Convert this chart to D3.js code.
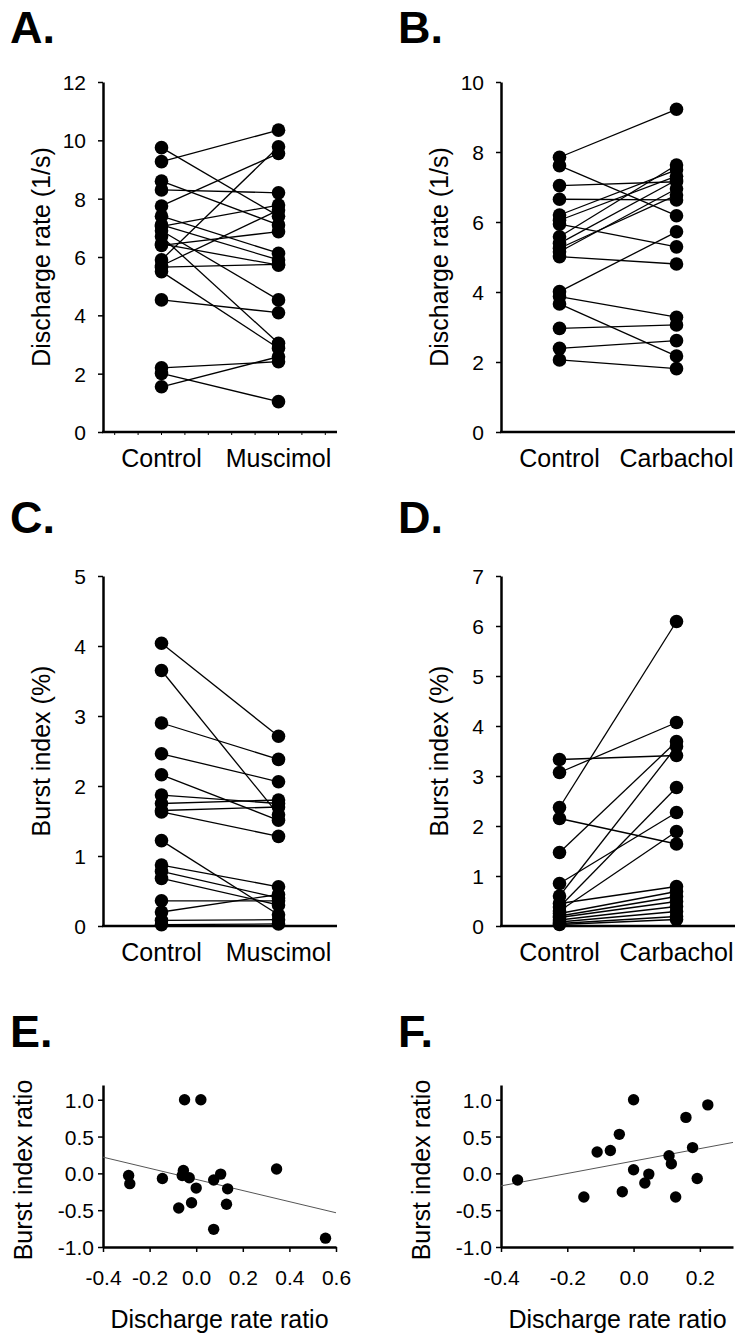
<!DOCTYPE html>
<html>
<head>
<meta charset="utf-8">
<script src="https://cdn.jsdelivr.net/npm/d3@7"></script>
<style>
  body { margin: 0; background: #fff; }
  svg text { font-family: "Liberation Sans", Arial, sans-serif; fill: #000; }
</style>
</head>
<body>
<script>
// A. discharge rate, control vs muscimol (paired by cell)
var catsA = ['Control', 'Muscimol'];
var controlA  = [9.75, 9.27, 8.60, 8.30, 7.75, 7.40, 7.10, 7.05, 6.90, 6.70, 6.45, 6.40, 5.90, 5.70, 5.65, 5.50, 4.53, 2.20, 2.01, 1.55];
var muscimolA = [7.40, 10.35, 7.10, 8.20, 9.55, 6.13, 5.90, 7.78, 4.53, 3.04, 5.72, 6.87, 9.78, 7.61, 5.75, 2.87, 4.09, 2.41, 1.04, 2.58];
var ticksA = [0, 2, 4, 6, 8, 10, 12];

// B. discharge rate, control vs carbachol
var catsB = ['Control', 'Carbachol'];
var controlB   = [7.85, 7.61, 7.04, 6.65, 6.20, 6.05, 5.94, 5.58, 5.39, 5.25, 5.15, 5.01, 4.01, 3.87, 3.66, 2.96, 2.39, 2.06];
var carbacholB = [9.22, 6.18, 7.15, 6.63, 7.49, 7.31, 5.29, 7.63, 7.20, 6.77, 6.95, 4.80, 5.72, 3.28, 2.17, 3.06, 2.61, 1.81];
var ticksB = [0, 2, 4, 6, 8, 10];

// C. burst index, control vs muscimol
var controlC  = [4.04, 3.65, 2.90, 2.46, 2.16, 1.87, 1.75, 1.65, 1.63, 1.22, 0.87, 0.78, 0.68, 0.36, 0.20, 0.08, 0.02];
var muscimolC = [2.71, 1.59, 2.38, 2.06, 1.51, 1.75, 1.80, 1.70, 1.28, 0.16, 0.56, 0.40, 0.30, 0.36, 0.45, 0.09, 0.03];
var ticksC = [0, 1, 2, 3, 4, 5];

// D. burst index, control vs carbachol
var controlD   = [3.33, 3.07, 2.37, 2.15, 1.47, 0.85, 0.60, 0.45, 0.38, 0.30, 0.25, 0.20, 0.17, 0.12, 0.08, 0.05, 0.03];
var carbacholD = [3.41, 4.07, 6.09, 1.64, 3.69, 2.27, 3.59, 0.79, 2.77, 1.89, 0.69, 0.59, 0.49, 0.39, 0.29, 0.19, 0.13];
var ticksD = [0, 1, 2, 3, 4, 5, 6, 7];

// E. ratios under muscimol
var rateRatioE  = [-0.05, 0.02, -0.29, -0.285, -0.145, -0.055, -0.06, -0.03, 0.0, -0.075, -0.02, 0.075, 0.105, 0.135, 0.13, 0.075, 0.345, 0.555];
var burstRatioE = [1.0, 1.0, -0.03, -0.14, -0.07, 0.04, -0.03, -0.06, -0.2, -0.47, -0.40, -0.09, -0.01, -0.21, -0.42, -0.76, 0.06, -0.88];
var fitE = [[-0.4, 0.22], [0.6, -0.535]];
var xTicksE = [-0.4, -0.2, 0.0, 0.2, 0.4, 0.6];

// F. ratios under carbachol
var rateRatioF  = [-0.35, -0.15, -0.11, -0.07, -0.043, -0.034, 0.0, 0.0, 0.034, 0.046, 0.107, 0.114, 0.127, 0.158, 0.178, 0.192, 0.224];
var burstRatioF = [-0.09, -0.32, 0.29, 0.31, 0.53, -0.25, 1.0, 0.05, -0.13, -0.01, 0.24, 0.13, -0.32, 0.76, 0.35, -0.07, 0.93];
var fitF = [[-0.4, -0.17], [0.3, 0.42]];
var xTicksF = [-0.4, -0.2, 0.0, 0.2];

var yTicksRatio = [-1.0, -0.5, 0.0, 0.5, 1.0];

var svg = d3.select('body').append('svg')
    .attr('width', 739)
    .attr('height', 1336);

function panelLetter(txt, x, y) {
    svg.append('text')
        .attr('x', x).attr('y', y)
        .style('font-size', '45px')
        .style('font-weight', 'bold')
        .text(txt);
}

function yLabel(txt, x, y) {
    svg.append('text')
        .attr('transform', 'translate(' + x + ',' + y + ') rotate(-90)')
        .attr('text-anchor', 'middle')
        .style('font-size', '25px')
        .text(txt);
}

function styleAxis(g) {
    g.select('.domain').attr('stroke', '#000').attr('stroke-width', 2.5);
    g.selectAll('.tick line').attr('stroke', '#000').attr('stroke-width', 1.5);
    g.selectAll('.tick text').style('font-size', '21px').attr('fill', '#000');
}

function paired(o) {
    var len = 234;
    var x = d3.scalePoint().domain(o.cats).range([o.x0, o.x0 + len]).padding(0.5);
    var y = d3.scaleLinear().domain([0, o.yMax]).range([o.yB, o.yT]);
    var g = svg.append('g');

    var ax = g.append('g')
        .attr('transform', 'translate(' + o.x0 + ',0)')
        .call(d3.axisLeft(y).tickValues(o.ticks).tickSize(5).tickSizeOuter(0).tickPadding(12)
            .tickFormat(d3.format('d')));
    styleAxis(ax);
    ax.selectAll('.tick text').attr('dy', '0.36em');

    g.append('line')
        .attr('x1', o.x0 - 1).attr('x2', o.x0 + len)
        .attr('y1', o.yB).attr('y2', o.yB)
        .attr('stroke', '#000').attr('stroke-width', 2.5);

    if (o.minor) {
        var m = d3.scaleLinear().domain([0, 10]).range([o.x0, o.x0 + len]);
        g.selectAll('.minor').data(d3.range(0.5, 10, 1)).enter().append('line')
            .attr('x1', function (d) { return m(d); })
            .attr('x2', function (d) { return m(d); })
            .attr('y1', o.yB).attr('y2', o.yB + 3)
            .attr('stroke', '#000').attr('stroke-width', 1);
    }

    g.selectAll('.cat').data(o.cats).enter().append('text')
        .attr('x', function (d) { return x(d); })
        .attr('y', o.yB + 35)
        .attr('text-anchor', 'middle')
        .style('font-size', '25px')
        .text(function (d) { return d; });

    var pairs = o.a.map(function (v, i) { return [v, o.b[i]]; });
    g.selectAll('.pair').data(pairs).enter().append('line')
        .attr('x1', x(o.cats[0])).attr('x2', x(o.cats[1]))
        .attr('y1', function (d) { return y(d[0]); })
        .attr('y2', function (d) { return y(d[1]); })
        .attr('stroke', '#000').attr('stroke-width', 1.3);

    [0, 1].forEach(function (k) {
        g.selectAll('.dot' + k).data(pairs).enter().append('circle')
            .attr('cx', x(o.cats[k]))
            .attr('cy', function (d) { return y(d[k]); })
            .attr('r', 6.8)
            .attr('fill', '#000');
    });

    yLabel(o.label, o.x0 - 53, (o.yB + o.yT) / 2);
}

function scatter(o) {
    var x = d3.scaleLinear().domain(o.xDom).range([o.x0, o.x0 + o.xLen]);
    var y = d3.scaleLinear().domain([-1, 1.2]).range([1247, 1085]);
    var g = svg.append('g');

    var ay = g.append('g')
        .attr('transform', 'translate(' + o.x0 + ',0)')
        .call(d3.axisLeft(y).tickValues(yTicksRatio).tickSize(5).tickSizeOuter(0).tickPadding(4)
            .tickFormat(function (d) { return d.toFixed(1); }));
    styleAxis(ay);
    ay.selectAll('.tick text').attr('dy', '0.36em');

    var axx = g.append('g')
        .attr('transform', 'translate(0,1247)')
        .call(d3.axisBottom(x).tickValues(o.xTicks).tickSize(5).tickSizeOuter(0).tickPadding(18)
            .tickFormat(function (d) { return d.toFixed(1); }));
    styleAxis(axx);

    g.append('line')
        .attr('x1', x(o.fit[0][0])).attr('y1', y(o.fit[0][1]))
        .attr('x2', x(o.fit[1][0])).attr('y2', y(o.fit[1][1]))
        .attr('stroke', '#555').attr('stroke-width', 1);

    g.selectAll('.pt').data(o.xs).enter().append('circle')
        .attr('cx', function (d) { return x(d); })
        .attr('cy', function (d, i) { return y(o.ys[i]); })
        .attr('r', 5.7)
        .attr('fill', '#000');

    g.append('text')
        .attr('x', o.x0 + 233 / 2).attr('y', 1328)
        .attr('text-anchor', 'middle')
        .style('font-size', '25px')
        .text('Discharge rate ratio');

    yLabel('Burst index ratio', o.x0 - 71, 1170);
}

panelLetter('A.', 10, 43);
panelLetter('B.', 398, 43);
panelLetter('C.', 10, 533);
panelLetter('D.', 398, 533);
panelLetter('E.', 10, 1047);
panelLetter('F.', 398, 1047);

paired({cats: catsA, a: controlA, b: muscimolA, x0: 103, yT: 82, yB: 432, yMax: 12, ticks: ticksA,
        label: 'Discharge rate (1/s)', minor: true});
paired({cats: catsB, a: controlB, b: carbacholB, x0: 501, yT: 82, yB: 432, yMax: 10, ticks: ticksB,
        label: 'Discharge rate (1/s)'});
paired({cats: catsA, a: controlC, b: muscimolC, x0: 103, yT: 576, yB: 926, yMax: 5, ticks: ticksC,
        label: 'Burst index (%)'});
paired({cats: catsB, a: controlD, b: carbacholD, x0: 501, yT: 576, yB: 926, yMax: 7, ticks: ticksD,
        label: 'Burst index (%)'});

scatter({xs: rateRatioE, ys: burstRatioE, fit: fitE, xDom: [-0.4, 0.6], xLen: 233, x0: 103, xTicks: xTicksE});
scatter({xs: rateRatioF, ys: burstRatioF, fit: fitF, xDom: [-0.4, 0.3], xLen: 232, x0: 501, xTicks: xTicksF});
</script>
</body>
</html>
